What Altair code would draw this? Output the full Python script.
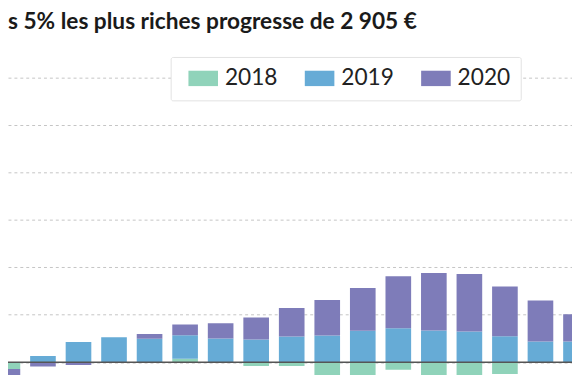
import altair as alt
import pandas as pd

title_text = "s 5% les plus riches progresse de 2 905 €"
years = ["2018", "2019", "2020"]
colors = ["#90d3ba", "#66abd6", "#7e7cb9"]
ventiles = list(range(1, 18))
v2018 = [-73, 0, 0, 0, 0, 36, 0, -42, -42, -135, -146, -81, -146, -135, -125, 0, 0]
v2019 = [0, 65, 214, 262, 248, 247, 250, 240, 271, 281, 331, 359, 335, 323, 274, 219, 219]
v2020 = [-62, -47, -31, 0, 49, 115, 161, 232, 302, 375, 451, 549, 607, 607, 526, 432, 286]
grid_values = [0, 500, 1000, 1500, 2000, 2500, 3000]

rows = []
for yr, vals in zip(years, [v2018, v2019, v2020]):
    for v, val in zip(ventiles, vals):
        rows.append({"ventile": v, "annee": yr, "value": val})
df = pd.DataFrame(rows)

xscale = alt.Scale(domain=[1.155, 16.749], nice=False, zero=False)
yscale = alt.Scale(domain=[-192.7, 3713.5], nice=False, zero=False)

bars = alt.Chart(df).mark_bar(size=26, clip=True).encode(
    x=alt.X("ventile:Q", scale=xscale, axis=None),
    y=alt.Y("value:Q", stack="zero", scale=yscale,
            axis=alt.Axis(values=grid_values, grid=True, labels=False, ticks=False,
                          domain=False, title=None, gridDash=[3, 3],
                          gridColor="#c4c4c4", gridWidth=1)),
    color=alt.Color("annee:N",
                    scale=alt.Scale(domain=years, range=colors),
                    legend=alt.Legend(orient="none", legendX=165, legendY=47,
                                      direction="horizontal", title=None,
                                      symbolType="M-0.35,-0.78H2.65V0.78H-0.35Z",
                                      symbolSize=400, symbolStrokeWidth=0,
                                      symbolOpacity=1, labelFontSize=23,
                                      labelFont="Lato", labelColor="#222222",
                                      labelOffset=22, columnPadding=19,
                                      padding=10, fillColor="white",
                                      strokeColor="#e2e2e2", cornerRadius=2)),
    order=alt.Order("annee:N"),
)

zero = alt.Chart(pd.DataFrame({"value": [0]})).mark_rule(
    color="#555555", strokeWidth=1.5).encode(y=alt.Y("value:Q"))

title = alt.Chart(pd.DataFrame({"t": [title_text]})).mark_text(
    align="left", baseline="alphabetic", font="Lato", fontSize=23,
    fontWeight="bold", color="#1a1a1a").encode(
    x=alt.value(0), y=alt.value(19), text="t:N")

chart = alt.layer(bars, zero, title).properties(
    width=572, height=375, autosize=alt.AutoSizeParams(type="none"), padding=0
).configure_view(stroke=None)

chart.save("out.html", embed_options={"renderer": "svg", "actions": False})
